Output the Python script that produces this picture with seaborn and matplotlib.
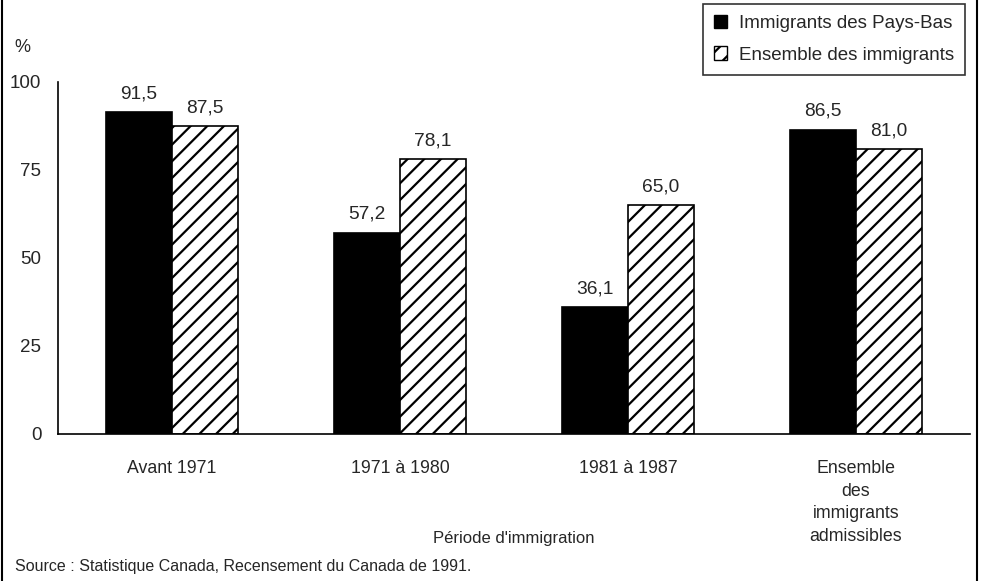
import pandas as pd
import numpy as np
import matplotlib
matplotlib.use("Agg")
import matplotlib.pyplot as plt
import seaborn as sns
from matplotlib.patches import Patch
from matplotlib.lines import Line2D

# Data
periodes = ["Avant 1971", "1971 à 1980", "1981 à 1987",
            "Ensemble\ndes\nimmigrants\nadmissibles"]
series = ["Immigrants des Pays-Bas", "Ensemble des immigrants"]
pays_bas = [91.5, 57.2, 36.1, 86.5]
ensemble = [87.5, 78.1, 65.0, 81.0]
y_ticks = [0, 25, 50, 75, 100]

df = pd.DataFrame({
    "periode": periodes * 2,
    "groupe": [series[0]] * 4 + [series[1]] * 4,
    "pct": pays_bas + ensemble,
})

sns.set_style("white")
plt.rcParams["font.family"] = ["Liberation Sans", "DejaVu Sans"]
plt.rcParams["hatch.linewidth"] = 1.6
plt.rcParams["hatch.color"] = "black"

fig = plt.figure(figsize=(9.81, 5.81), dpi=100)
ax = fig.add_axes([58 / 981, 1 - 434 / 581, (970 - 58) / 981, (434 - 82) / 581])

sns.barplot(data=df, x="periode", y="pct", hue="groupe", order=periodes,
            hue_order=series, palette=["black", "white"], width=0.58,
            edgecolor="black", linewidth=1.2, saturation=1, ax=ax, legend=False)

for bar in ax.containers[1]:
    bar.set_hatch("//")

for cont, vals in zip(ax.containers, [pays_bas, ensemble]):
    ax.bar_label(cont, labels=[f"{v:.1f}".replace(".", ",") for v in vals],
                 padding=7, fontsize=13.8)

ax.set_ylim(0, 100)
ax.set_xlim(-0.5, 3.5)
ax.set_yticks(y_ticks)
ax.set_yticklabels([str(t) for t in y_ticks], fontsize=13.5)
ax.set_xticks(np.arange(-0.5, 4.0, 1.0), minor=False)
ax.set_xticklabels([])
ax.set_xticks(range(4), minor=True)
ax.set_xticklabels(periodes, minor=True, fontsize=12.8, linespacing=1.42, va="top")
ax.tick_params(axis="x", which="minor", length=0, pad=19)
ax.tick_params(axis="x", which="major", direction="inout", length=8, width=1)
ax.tick_params(axis="y", direction="inout", length=8, width=1, pad=8)

for side in ["top", "right"]:
    ax.spines[side].set_visible(False)
for side in ["left", "bottom"]:
    ax.spines[side].set_color("black")
    ax.spines[side].set_linewidth(1.2)
ax.set_xlabel("")
ax.set_ylabel("")

fig.text(14 / 981, 1 - 47 / 581, "%", fontsize=13, va="center", ha="left")
fig.text(514 / 981, 1 - 538 / 581, "Période d'immigration", fontsize=12,
         ha="center", va="center")
fig.text(15 / 981, 1 - 567 / 581,
         "Source : Statistique Canada, Recensement du Canada de 1991.",
         fontsize=11.5, ha="left", va="center")

handles = [Patch(facecolor="black", edgecolor="black"),
           Patch(facecolor="white", edgecolor="black", hatch="//")]
leg = fig.legend(handles, series, loc="upper right",
                 bbox_to_anchor=(965 / 981, 1 - 4 / 581), fontsize=13.5,
                 frameon=True, fancybox=False, handlelength=0.7,
                 handleheight=0.7, handletextpad=0.6, borderpad=0.6,
                 labelspacing=0.75, borderaxespad=0)
leg.get_frame().set_edgecolor("black")
leg.get_frame().set_linewidth(1.2)

# outer frame lines of the original figure
fig.add_artist(Line2D([2 / 981, 2 / 981], [0, 1], color="black", lw=1.5,
                      transform=fig.transFigure))
fig.add_artist(Line2D([977 / 981, 977 / 981], [0, 1], color="black", lw=1.5,
                      transform=fig.transFigure))

fig.savefig("out.png", dpi=100)
